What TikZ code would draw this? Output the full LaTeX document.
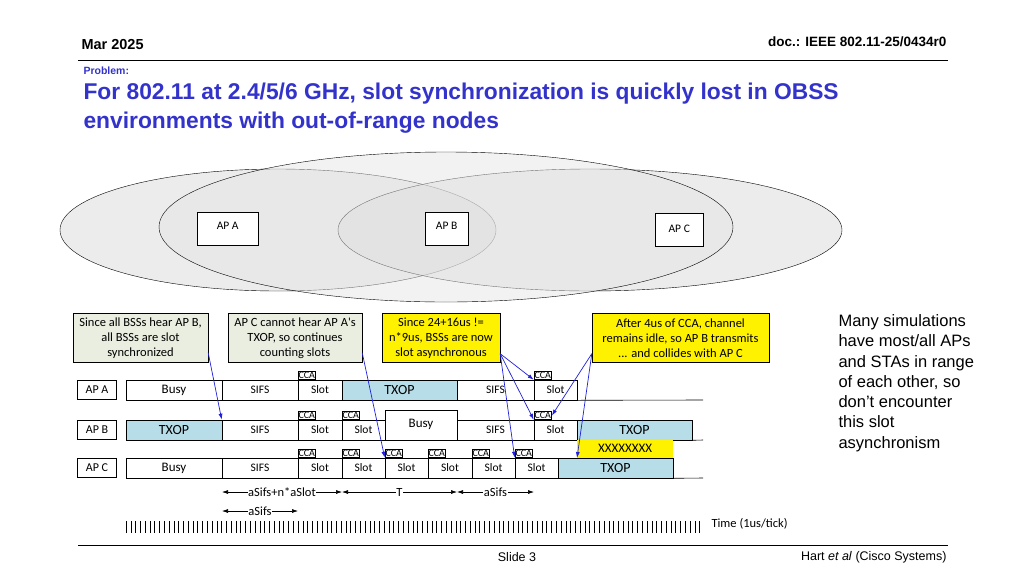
\documentclass[tikz,border=0pt]{standalone}
\usepackage{fontspec}
\setmainfont{Liberation Sans}
\newfontfamily\calfont{Carlito}
\usetikzlibrary{positioning, arrows.meta, fit}
\definecolor{txopblue}{RGB}{183,221,232}
\definecolor{notegreen}{RGB}{234,238,224}
\definecolor{titleblue}{RGB}{51,51,204}
\definecolor{arrowblue}{RGB}{30,30,220}

% segment of a timeline row: name, x1, x2, ytop, ybot, style, text
\newcommand{\seg}[7]{%
  \coordinate (#1-nw) at (#2,#4);
  \coordinate (#1-se) at (#3,#5);
  \node[segbox, fit=(#1-nw)(#1-se), #6] (#1) {};
  \node[font=\calfont\fontsize{11.5}{12}\selectfont] at (#1.center) {#7};}
\newcommand{\cca}[2]{%
  \node[ccabox, anchor=south west] (#1) at (#2) {CCA};}

\begin{document}
\begin{tikzpicture}[x=1pt, y=-1pt,
    segbox/.style={draw, inner sep=0pt, line width=0.6pt},
    ccabox/.style={draw, inner sep=0.6pt, font=\calfont\fontsize{10}{10}\selectfont, line width=0.5pt},
    notebox/.style={draw, align=center, font=\calfont\fontsize{12.5}{15}\selectfont, minimum height=49pt, inner sep=1pt},
    apbox/.style={draw, font=\calfont\fontsize{12}{13}\selectfont, minimum height=19pt, minimum width=39pt, inner sep=1pt},
    rangebox/.style={draw, fill=white, anchor=north west, minimum height=33pt},
    callout/.style={-{Latex[length=6pt,width=4pt]}, arrowblue, line width=0.7pt},
    dim/.style={{Latex[length=6pt,width=4pt]}-{Latex[length=6pt,width=4pt]}, line width=0.6pt},
    dimlabel/.style={fill=white, inner sep=0.5pt, font=\calfont\fontsize{12.5}{14}\selectfont}
  ]
  \useasboundingbox (0,0) rectangle (1024,576);

  % Header and footer
  \node[anchor=west, font=\bfseries\fontsize{14.5}{16}\selectfont] (date) at (78,45) {Mar 2025};
  \node[anchor=east, font=\bfseries\fontsize{13.5}{15}\selectfont] (doc) at (950,42) {doc.: IEEE 802.11-25/0434r0};
  \draw[line width=0.8pt] (78,60) -- (948,60);
  \node[anchor=west, font=\bfseries\fontsize{10.5}{12}\selectfont, titleblue] (prob) at (80,71) {Problem:};
  \node[anchor=north west, align=left, font=\bfseries\fontsize{22.8}{29}\selectfont, titleblue] (title) at (80,79)
    {For 802.11 at 2.4/5/6 GHz, slot synchronization is quickly lost in OBSS\\environments with out-of-range nodes};
  \draw[line width=0.8pt] (78,545) -- (948,545);
  \node[font=\fontsize{12.5}{14}\selectfont] (slide) at (517,557) {Slide 3};
  \node[anchor=east, font=\fontsize{12.5}{14}\selectfont] (author) at (950,557) {Hart \textit{et al} (Cisco Systems)};

  % Ranges
  \draw[fill=gray!30, fill opacity=0.5] (278,230) ellipse [x radius=218, y radius=61];
  \draw[fill=gray!30, fill opacity=0.5] (590,230) ellipse [x radius=252, y radius=61];
  \draw[fill=gray!20, fill opacity=0.5] (446,227) ellipse [x radius=287, y radius=75];
  \node[rangebox, minimum width=61pt] (apa) at (197,212) {};
  \node[rangebox, minimum width=43pt] (apb) at (425,212) {};
  \node[rangebox, minimum width=48pt] (apc) at (655,213) {};
  \node[font=\calfont\fontsize{11.5}{12}\selectfont] at ([yshift=-14pt]apa.north) {AP A};
  \node[font=\calfont\fontsize{11.5}{12}\selectfont] at ([yshift=-14pt]apb.north) {AP B};
  \node[font=\calfont\fontsize{11.5}{12}\selectfont] at ([yshift=-16pt]apc.north) {AP C};

  % Row labels
  \node[apbox] (rowa) at (97,390) {AP A};
  \node[apbox] (rowb) at (97,430) {AP B};
  \node[apbox] (rowc) at (97,468) {AP C};

  % AP A row
  \seg{a1}{126}{222}{380}{400}{}{\fontsize{13}{14}\selectfont Busy}
  \seg{a2}{222}{298}{380}{400}{}{SIFS}
  \seg{a3}{298}{342}{380}{400}{}{Slot}
  \seg{a4}{342}{457}{380}{400}{fill=txopblue}{\fontsize{14}{15}\selectfont TXOP}
  \seg{a5}{457}{534}{380}{400}{}{SIFS}
  \seg{a6}{534}{577}{380}{400}{}{Slot}
  \draw[line width=0.6pt] (a6.south east) -- (703,400);
  \cca{ca1}{a3.north west}
  \cca{ca2}{a6.north west}

  % AP B row
  \seg{b1}{126}{222}{420}{440}{fill=txopblue}{\fontsize{14}{15}\selectfont TXOP}
  \seg{b2}{222}{298}{420}{440}{}{SIFS}
  \seg{b3}{298}{342}{420}{440}{}{Slot}
  \seg{b4}{342}{385}{420}{440}{}{Slot}
  \seg{b5}{385}{457}{410}{440}{}{\raisebox{4pt}{\fontsize{13}{14}\selectfont Busy}}
  \seg{b6}{457}{534}{420}{440}{}{SIFS}
  \seg{b7}{534}{577}{420}{440}{}{Slot}
  \seg{b8}{577}{692}{420}{440}{fill=txopblue}{\fontsize{14}{15}\selectfont TXOP}
  \draw[line width=0.6pt] (b8.south east) -- (703,440);
  \cca{cb1}{b3.north west}
  \cca{cb2}{b4.north west}
  \cca{cb3}{b7.north west}

  % AP C row
  \seg{c1}{126}{222}{458}{478}{}{\fontsize{13}{14}\selectfont Busy}
  \seg{c2}{222}{298}{458}{478}{}{SIFS}
  \seg{c3}{298}{342}{458}{478}{}{Slot}
  \seg{c4}{342}{385}{458}{478}{}{Slot}
  \seg{c5}{385}{428}{458}{478}{}{Slot}
  \seg{c6}{428}{472}{458}{478}{}{Slot}
  \seg{c7}{472}{515}{458}{478}{}{Slot}
  \seg{c8}{515}{558}{458}{478}{}{Slot}
  \seg{c9}{558}{673}{458}{478}{fill=txopblue}{\fontsize{14}{15}\selectfont TXOP}
  \draw[line width=0.6pt] (c9.south east) -- (703,478);
  \node[fill=yellow, inner sep=0pt, minimum width=96pt, minimum height=18pt, anchor=south west,
        font=\calfont\fontsize{13}{14}\selectfont] (coll) at (577,458) {XXXXXXXX};
  \foreach \s/\n in {c3/1, c4/2, c5/3, c6/4, c7/5, c8/6}
    \cca{cc\n}{\s.north west};

  % Notes
  \node[notebox, fill=notegreen, minimum width=135pt] (n1) at (140.5,338) {Since all BSSs hear AP B,\\all BSSs are slot\\synchronized};
  \node[notebox, fill=notegreen, minimum width=134pt] (n2) at (295,338) {AP C cannot hear AP A's\\TXOP, so continues\\counting slots};
  \node[notebox, fill=yellow, minimum width=118pt] (n3) at (441,338) {Since 24+16us !=\\n*9us, BSSs are now\\slot asynchronous};
  \node[notebox, fill=yellow, minimum width=177pt] (n4) at (680.5,338) {After 4us of CCA, channel\\remains idle, so AP B transmits\\... and collides with AP C};

  % Callouts
  \draw[callout] ([yshift=10pt]n1.south east) -- (b2.north west);
  \draw[callout] ([yshift=10pt]n2.south east) -- (c5.north west);
  \draw[callout] ([yshift=9pt]n3.south east) -- (ca2.south west);
  \draw[callout] ([yshift=9pt]n3.south east) -- (cb3.south west);
  \draw[callout] ([yshift=9pt]n3.south east) -- (c8.north west);
  \draw[callout] ([yshift=9pt]n4.south west) -- (cb3.east);
  \draw[callout] ([yshift=9pt]n4.south west) -- (coll.south west);

  % Dimensions
  \coordinate (d1) at (222,492); \coordinate (d2) at (342,492);
  \coordinate (d3) at (457,492); \coordinate (d4) at (534,492);
  \coordinate (e1) at (222,511); \coordinate (e2) at (298,511);
  \draw[dim] (d1) -- node[dimlabel] {aSifs+n*aSlot} (d2);
  \draw[dim] (d2) -- node[dimlabel] {T} (d3);
  \draw[dim] (d3) -- node[dimlabel] {aSifs} (d4);
  \draw[dim] (e1) -- node[dimlabel] {aSifs} (e2);

  % Time ticks
  \foreach \i in {0,...,120}
    \draw[line width=0.5pt] (126+\i*4.78,521) -- (126+\i*4.78,533);
  \node[anchor=west, font=\calfont\fontsize{12.5}{14}\selectfont] (time) at (708,524) {Time (1us/tick)};

  % Side remark
  \node[anchor=north west, align=left, font=\fontsize{16.5}{20.3}\selectfont] (remark) at (835,311)
    {Many simulations\\have most/all APs\\and STAs in range\\of each other, so\\don't encounter\\this slot\\asynchronism};
\end{tikzpicture}
\end{document}
